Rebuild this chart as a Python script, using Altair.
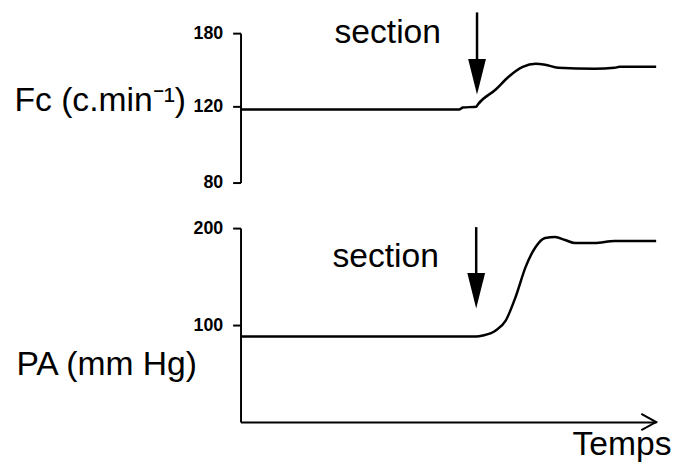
import altair as alt
import pandas as pd

# ---- data (time in arbitrary units 0-100) ----
fc_t = [0, 52.6, 53.5, 56.7, 57.1, 61.4, 64.5, 67.9, 71.0, 73.3, 76.4, 85.2, 90.0, 91.2, 100]
fc_v = [118.4, 118.4, 119.4, 119.8, 121.6, 133.8, 144.3, 152.4, 154.9, 154.1, 151.6, 150.8, 151.6, 152.4, 152.4]

pa_t = [0, 56.7, 58.3, 61.4, 63.8, 66.2, 68.6, 71.0, 73.3, 75.7, 78.1, 80.5, 85.2, 90.0, 100]
pa_v = [88.2, 88.2, 89.2, 94.4, 104.6, 129.2, 160.0, 180.5, 189.7, 190.8, 187.7, 184.6, 184.6, 186.7, 186.7]

fc_ticks = [80, 120, 180]
pa_ticks = [100, 200]

# annotation arrows ("section"): x, shaft top, head centre
fc_arrow = {"t": 56.9, "top": 197, "head": 144.3}
pa_arrow = {"t": 56.7, "top": 201, "head": 135.4}
fc_label = {"t": 22.6, "v": 171.9, "text": "section"}
pa_label = {"t": 22.1, "v": 160.0, "text": "section"}

FONT = "Liberation Sans"
BIG = 34
TRI = "M-0.5,-1L0.5,-1L0,1Z"
CHEV = "M-1,-0.55L0,0L-1,0.55"

xscale = alt.Scale(domain=[0, 100], nice=False, zero=False)

def arrow_layers(arrow, label, yscale):
    d_rule = pd.DataFrame({"t": [arrow["t"]], "y1": [arrow["top"]], "y2": [arrow["head"]]})
    rule = alt.Chart(d_rule).mark_rule(color="black", strokeWidth=2.5).encode(
        x=alt.X("t:Q", scale=xscale),
        y=alt.Y("y1:Q", scale=yscale),
        y2="y2:Q",
    )
    d_head = pd.DataFrame({"t": [arrow["t"]], "y": [arrow["head"]]})
    head = alt.Chart(d_head).mark_point(
        shape=TRI, filled=True, color="black", size=1296, opacity=1, strokeWidth=0
    ).encode(x=alt.X("t:Q", scale=xscale), y=alt.Y("y:Q", scale=yscale))
    d_txt = pd.DataFrame({"t": [label["t"]], "y": [label["v"]], "txt": [label["text"]]})
    txt = alt.Chart(d_txt).mark_text(
        align="left", baseline="alphabetic", fontSize=BIG, font=FONT, color="black"
    ).encode(x=alt.X("t:Q", scale=xscale), y=alt.Y("y:Q", scale=yscale), text="txt:N")
    return [rule, head, txt]

def y_axis(ticks, title, tx, ty):
    return alt.Axis(
        values=ticks, title=title, titleAngle=0, titleAlign="left",
        titleBaseline="alphabetic", titleX=tx, titleY=ty, titleFontSize=BIG,
        titleFontWeight="normal", titleFont=FONT, titleColor="black",
        labelFont=FONT, labelFontSize=18, labelFontWeight="bold", labelColor="black",
        labelPadding=10, tickSize=8, tickWidth=2, tickColor="black",
        domainWidth=2, domainColor="black", grid=False)

# ---- top panel: Fc ----
fc_scale = alt.Scale(domain=[80, 120, 180], range=[151, 74, 0], nice=False, zero=False)
fc_df = pd.DataFrame({"t": fc_t, "v": fc_v})
fc_line = alt.Chart(fc_df).mark_line(color="black", strokeWidth=2.5, interpolate="monotone").encode(
    x=alt.X("t:Q", scale=xscale, axis=None),
    y=alt.Y("v:Q", scale=fc_scale, axis=y_axis(fc_ticks, "Fc (c.min⁻¹)", -229, 78)),
)
top = alt.layer(fc_line, *arrow_layers(fc_arrow, fc_label, fc_scale)).properties(width=420, height=151)

# ---- bottom panel: PA ----
pa_scale = alt.Scale(domain=[0, 200], nice=False, zero=False)
pa_df = pd.DataFrame({"t": pa_t, "v": pa_v})
pa_line = alt.Chart(pa_df).mark_line(color="black", strokeWidth=2.5, interpolate="monotone").encode(
    x=alt.X("t:Q", scale=xscale, axis=alt.Axis(
        title="Temps", labels=False, ticks=False, grid=False, domainWidth=2, domainColor="black",
        titleX=435, titleY=33, titleAlign="right", titleBaseline="alphabetic",
        titleFontSize=BIG, titleFontWeight="normal", titleFont=FONT, titleColor="black")),
    y=alt.Y("v:Q", scale=pa_scale, axis=y_axis(pa_ticks, "PA (mm Hg)", -227, 148)),
)
chev_df = pd.DataFrame({"t": [100], "v": [0]})
chev = alt.Chart(chev_df).mark_point(
    shape=CHEV, filled=False, color="black", size=900, strokeWidth=2, opacity=1
).encode(x=alt.X("t:Q", scale=xscale), y=alt.Y("v:Q", scale=pa_scale))
bottom = alt.layer(pa_line, chev, *arrow_layers(pa_arrow, pa_label, pa_scale)).properties(width=420, height=196)

chart = alt.vconcat(top, bottom, spacing=46, bounds="flush").properties(
    autosize=alt.AutoSizeParams(type="pad"),
    padding={"left": 6, "top": 0, "right": 0, "bottom": 0},
    background="white",
).configure_view(stroke=None)

chart.save("out.html", embed_options={"renderer": "svg", "actions": False})
